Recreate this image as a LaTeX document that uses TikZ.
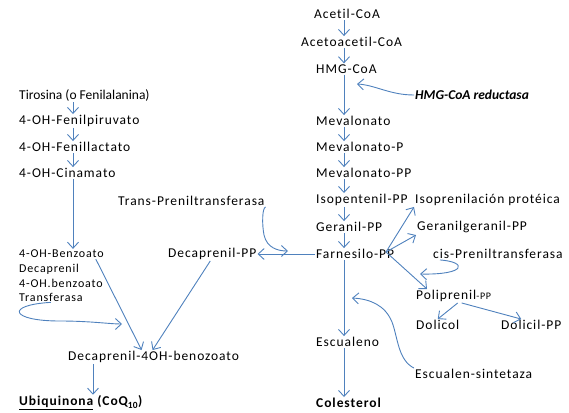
\documentclass[tikz,border=0pt]{standalone}
\usepackage{fontspec}
\setmainfont{Carlito}[Ligatures=NoCommon]
\newfontfamily\widefont{Carlito}[LetterSpace=7,Ligatures=NoCommon]
\usetikzlibrary{arrows.meta}
\definecolor{pathblue}{RGB}{79,129,189}
\tikzset{
  flow/.style={pathblue, line width=0.9pt,
    -{Straight Barb[length=6pt,width=11pt]}},
  met/.style={anchor=west, inner sep=1pt, font=\widefont\fontsize{13.5}{15}\selectfont},
  metsmall/.style={anchor=west, inner sep=1pt, font=\widefont\fontsize{12}{14}\selectfont},
  enzyme/.style={anchor=west, inner sep=1pt, font=\fontsize{13.5}{15}\selectfont\bfseries\itshape}
}

\begin{document}
\begin{tikzpicture}[x=1pt,y=-1pt]
  \useasboundingbox (0,0) rectangle (569,412);
  \coordinate (rspine) at (344,0);
  \coordinate (lspine) at (73,0);
  \coordinate (qspine) at (93,0);

  % Mevalonate pathway
  \node[met] (acetil) at (313,14) {Acetil-CoA};
  \node[met] (acetoac) at (300,42) {Acetoacetil-CoA};
  \node[met] (hmg) at (315,69) {HMG-CoA};
  \node[enzyme] (reduct) at (414,95) {HMG-CoA reductasa};
  \node[met] (meval) at (315,121) {Mevalonato};
  \node[met] (mevalp) at (315,147) {Mevalonato-P};
  \node[met] (mevalpp) at (315,173) {Mevalonato-PP};
  \node[met] (isopent) at (315,200) {Isopentenil-PP};
  \node[met] (isopren) at (414,200) {Isoprenilación protéica};
  \node[met] (geranil) at (315,227) {Geranil-PP};
  \node[met] (gergeran) at (416,227) {Geranilgeranil-PP};
  \node[met] (farnes) at (315,254) {Farnesilo-PP};
  \node[met] (cisprenil) at (432,254) {cis-Preniltransferasa};
  \node[met] (polipr) at (415,296) {Poliprenil{\fontsize{10}{12}\selectfont-PP}};
  \node[met] (dolicol) at (415,325) {Dolicol};
  \node[met] (dolicil) at (500,325) {Dolicil-PP};
  \node[met] (escual) at (315,342) {Escualeno};
  \node[met] (escsint) at (414,374) {Escualen-sintetaza};
  \node[met, font=\widefont\fontsize{13.5}{15}\selectfont\bfseries] (colest) at (315,403) {Colesterol};

  \draw[flow] (acetil.south -| rspine) -- (acetoac.north -| rspine);
  \draw[flow] (acetoac.south -| rspine) -- (hmg.north -| rspine);
  \draw[flow] (hmg.south -| rspine) -- (meval.north -| rspine);
  \draw[flow] (meval.south -| rspine) -- (mevalp.north -| rspine);
  \draw[flow] (mevalp.south -| rspine) -- (mevalpp.north -| rspine);
  \draw[flow] (mevalpp.south -| rspine) -- (isopent.north -| rspine);
  \draw[flow] (isopent.south -| rspine) -- (geranil.north -| rspine);
  \draw[flow] (geranil.south -| rspine) -- (farnes.north -| rspine);
  \draw[flow] (farnes.south -| rspine) -- (escual.north -| rspine);
  \draw[flow] (escual.south -| rspine) -- (colest.north -| rspine);
  \coordinate (redtip) at (357,84);
  \draw[flow] (reduct.west) .. controls (390,95) and (375,85) .. (redtip);

  % Farnesilo-PP branches
  \coordinate (fork) at (386,252);
  \draw[flow] (fork) -- (isopren.south west);
  \draw[flow] (fork) -- ([yshift=-1pt]gergeran.south west);
  \draw[flow] (fork) -- ([xshift=12pt]polipr.north west);
  \coordinate (cistip) at (420,274);
  \draw[flow] ([xshift=8pt]cisprenil.south west)
    .. controls (468,262) and (466,275) .. (cistip);
  \draw[flow] ([xshift=4pt]polipr.south) -- (dolicol.north);
  \draw[flow] ([xshift=8pt]polipr.south) -- ([xshift=-10pt]dolicil.north);
  \coordinate (sinttip) at (352,298);
  \draw[flow] (escsint.north west)
    .. controls (398,360) and (398,338) .. (392,322)
    .. controls (385,305) and (370,299) .. (sinttip);

  % Ubiquinone pathway
  \node[met, font=\fontsize{13.5}{15}\selectfont] (tiros) at (18,95) {Tirosina (o Fenilalanina)};
  \node[met] (piruv) at (18,121) {4-OH-Fenilpiruvato};
  \node[met] (lact) at (18,147) {4-OH-Fenillactato};
  \node[met] (cinam) at (18,173) {4-OH-Cinamato};
  \node[metsmall] (benzo) at (18,254) {4-OH-Benzoato};
  \node[metsmall] (decaname) at (18,269) {Decaprenil};
  \node[metsmall] (ohbenzo) at (18,283) {4-OH.benzoato};
  \node[metsmall] (transf) at (18,297) {Transferasa};
  \node[met] (transpr) at (117,201) {Trans-Preniltransferasa};
  \node[met] (decapp) at (167,254) {Decaprenil-PP};
  \node[met] (deca4oh) at (67,357) {Decaprenil-4OH-benozoato};
  \node[met, font=\widefont\fontsize{13.5}{15}\selectfont\bfseries] (ubiq) at (18,403)
    {\underline{Ubiquinona} (CoQ$_{\mathbf{10}}$)};

  \draw[flow] (tiros.south -| lspine) -- (piruv.north -| lspine);
  \draw[flow] (piruv.south -| lspine) -- (lact.north -| lspine);
  \draw[flow] (lact.south -| lspine) -- (cinam.north -| lspine);
  \draw[flow] (cinam.south -| lspine) -- (benzo.north -| lspine);
  \draw[flow] (farnes.west) -- (decapp.east);
  \coordinate (transtip) at (288,251);
  \draw[flow] (transpr.south east)
    .. controls (262,208) and (262,225) .. (264,235)
    .. controls (267,248) and (278,251) .. (transtip);
  \draw[flow] ([xshift=-9pt]benzo.south east) -- ([xshift=-12pt]deca4oh.north);
  \draw[flow] ([xshift=-2pt]decapp.south) -- ([xshift=-1pt]deca4oh.north);
  \coordinate (transftip) at (122,324);
  \draw[flow] (transf.south)
    .. controls (5,305) and (10,321) .. (60,321)
    .. controls (90,321) and (110,324) .. (transftip);
  \draw[flow] (deca4oh.south -| qspine) -- (ubiq.north -| qspine);
\end{tikzpicture}
\end{document}
